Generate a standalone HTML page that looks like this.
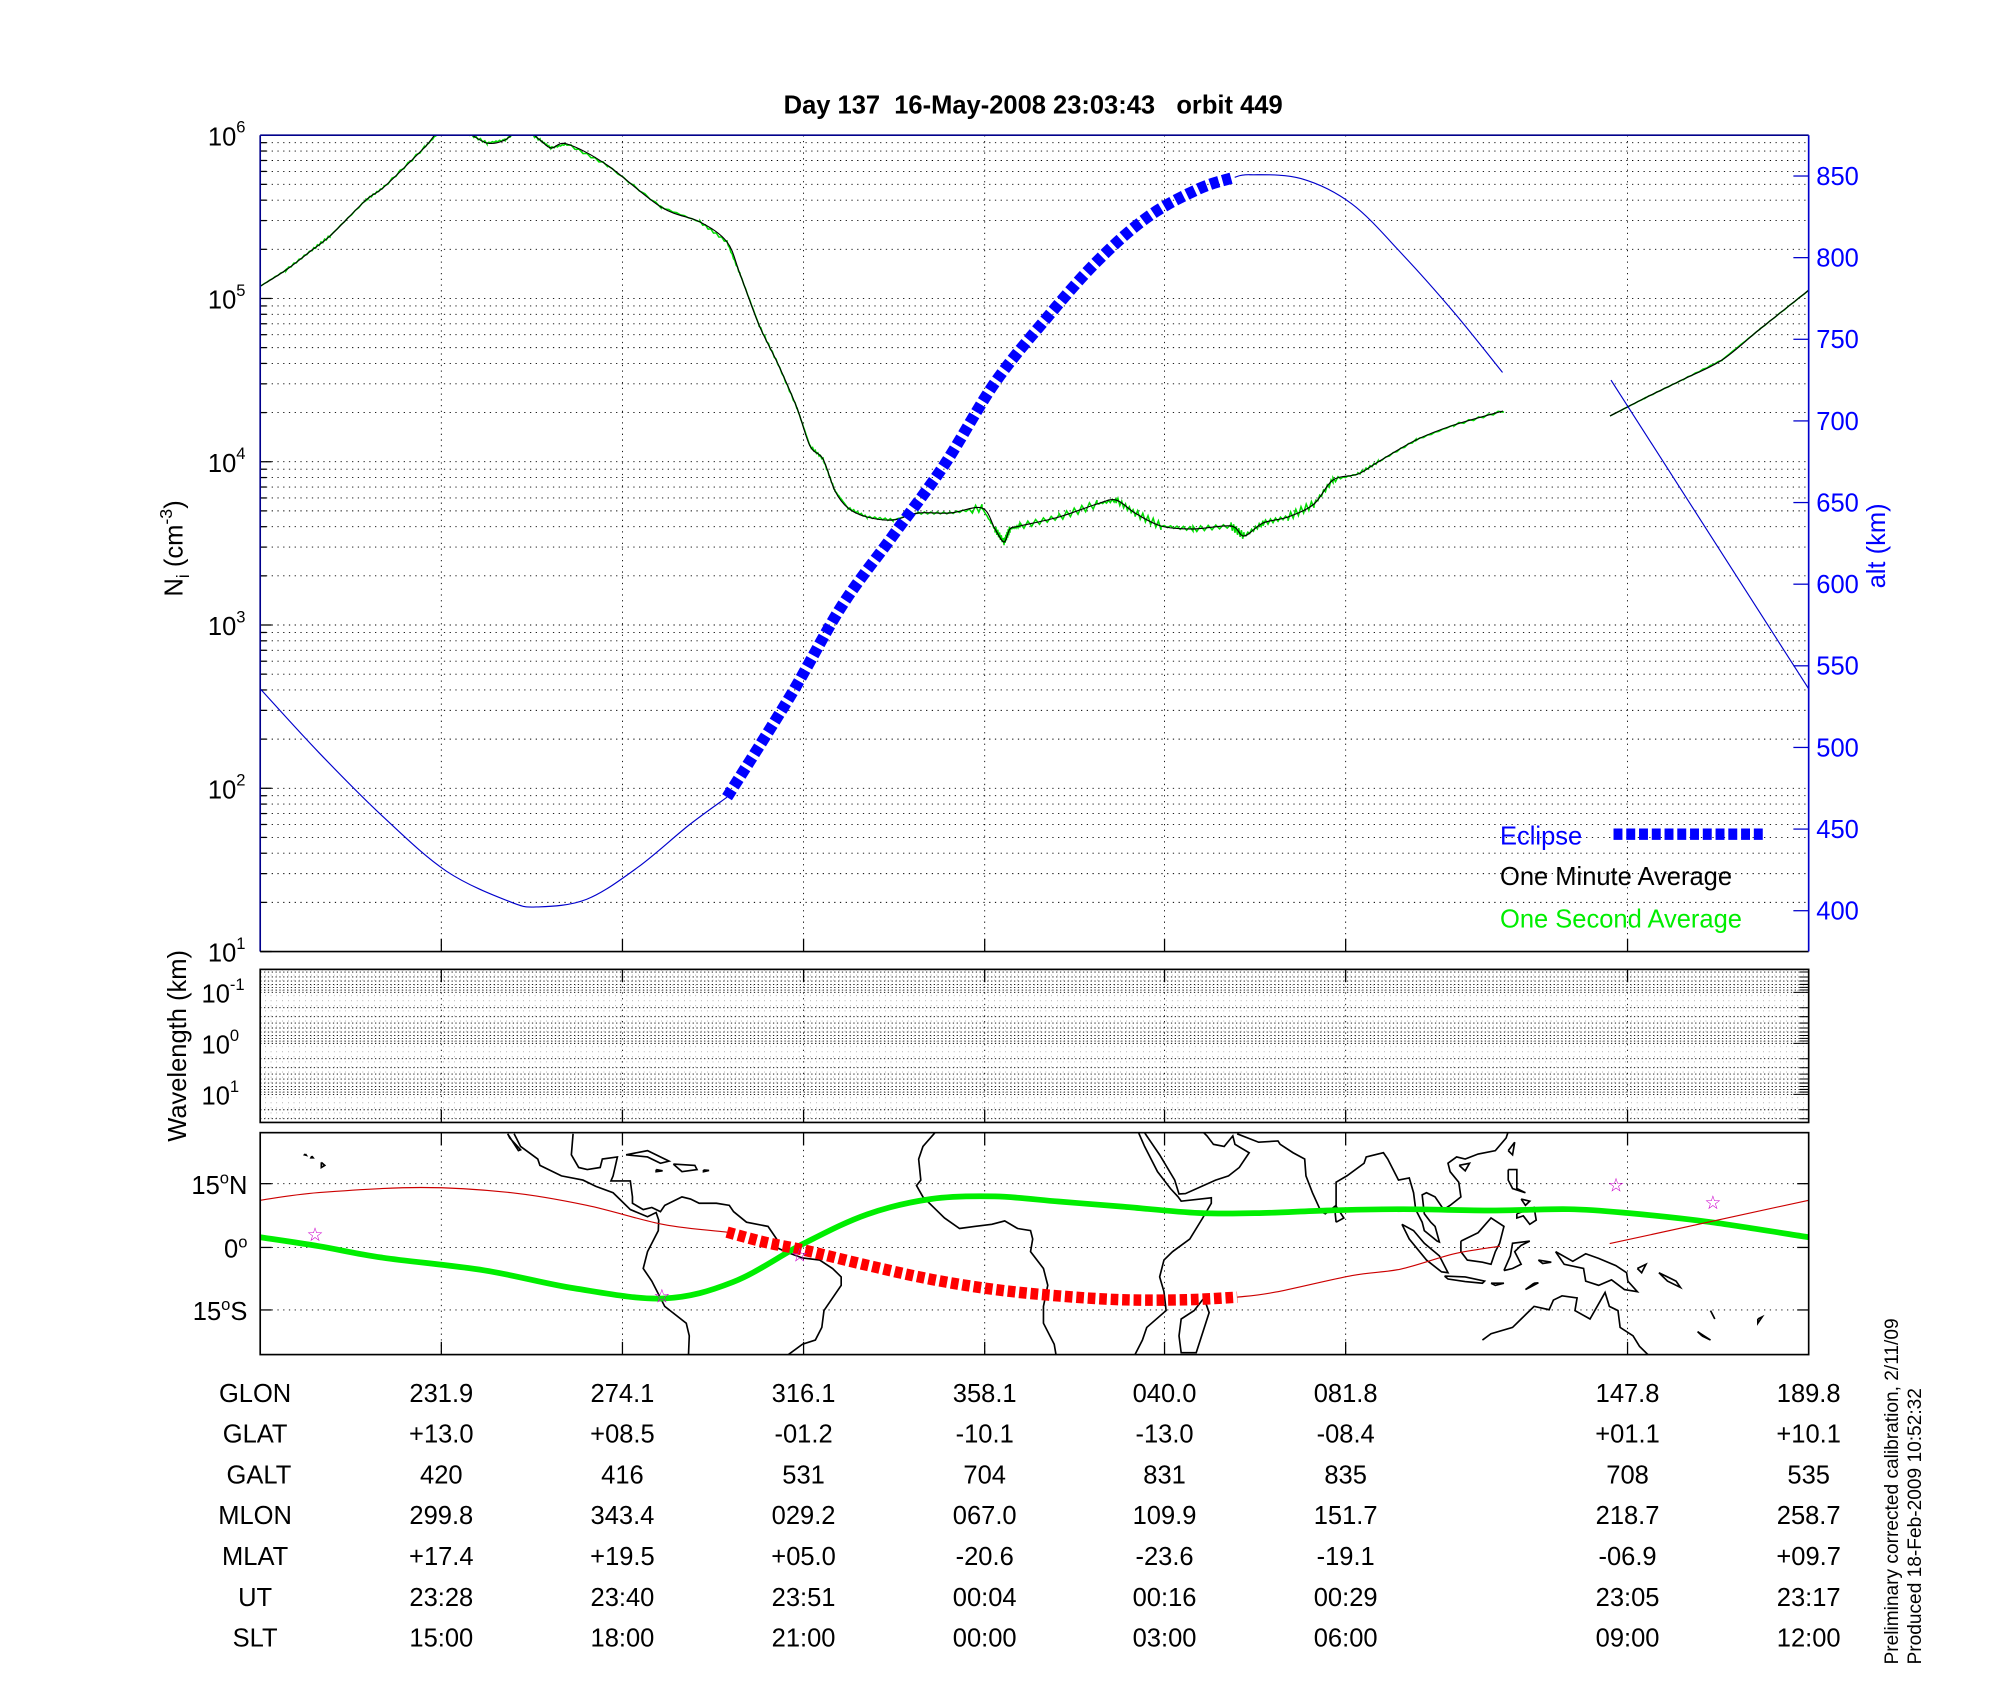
<!DOCTYPE html>
<html><head><meta charset="utf-8"><style>
html,body{margin:0;padding:0;background:#fff;}
svg{display:block;font-family:"Liberation Sans",Arial,sans-serif;}
</style></head><body>
<svg id="s" width="2000" height="1700" viewBox="0 0 1568 1332.8" preserveAspectRatio="none" xmlns="http://www.w3.org/2000/svg">
<rect width="1568" height="1333" fill="#fff"/>
<defs>
<clipPath id="cm"><rect x="204" y="106" width="1214" height="640"/></clipPath>
<clipPath id="cmap"><rect x="204" y="888" width="1214" height="174"/></clipPath>
<clipPath id="cw"><rect x="204" y="760" width="1214" height="120"/></clipPath>
</defs>
<g id="grid"></g>
<g id="data"></g>
<line x1="204" y1="106" x2="1418" y2="106" stroke="#00008b" stroke-width="1.3"/>
<line x1="204" y1="106" x2="204" y2="746" stroke="#00008b" stroke-width="1.3"/>
<line x1="204" y1="746" x2="1418" y2="746" stroke="#000" stroke-width="1.3"/>
<line x1="1418" y1="106" x2="1418" y2="746" stroke="#0000cc" stroke-width="1.3"/>
<rect x="204" y="760" width="1214" height="120" fill="none" stroke="#000" stroke-width="1.3"/>
<rect x="204" y="888" width="1214" height="174" fill="none" stroke="#000" stroke-width="1.3"/>
<text x="810" y="89" text-anchor="middle" font-weight="bold" font-size="20" xml:space="preserve">Day 137  16-May-2008 23:03:43   orbit 449</text>
<g id="txt" font-size="21"></g>
<text x="1176" y="662" fill="#0000ff" font-size="20">Eclipse</text>
<line x1="1265" y1="654" x2="1382" y2="654" stroke="#0000ff" stroke-width="9" stroke-dasharray="7 3"/>
<text x="1176" y="694" fill="#000" font-size="20">One Minute Average</text>
<text x="1176" y="727" fill="#00ee00" font-size="20">One Second Average</text>
<text transform="translate(143,430) rotate(-90)" text-anchor="middle" font-size="20">N<tspan font-size="14" dy="5">i</tspan><tspan dy="-5"> (cm</tspan><tspan font-size="14" dy="-8">-3</tspan><tspan dy="8">)</tspan></text>
<text transform="translate(1478,428) rotate(-90)" text-anchor="middle" font-size="20" fill="#0000ff">alt (km)</text>
<text transform="translate(146,820) rotate(-90)" text-anchor="middle" font-size="20">Wavelength (km)</text>
<text transform="translate(1488,1305) rotate(-90)" font-size="15">Preliminary corrected calibration, 2/11/09</text>
<text transform="translate(1506,1305) rotate(-90)" font-size="15">Produced 18-Feb-2009 10:52:32</text>
</svg>
<script>
var NS="http://www.w3.org/2000/svg";
function el(p,t,a,txt){var e=document.createElementNS(NS,t);for(var k in a)e.setAttribute(k,a[k]);if(txt!==undefined)e.textContent=txt;p.appendChild(e);return e;}
var g=document.getElementById('grid'),d=document.getElementById('data'),T=document.getElementById('txt');
var XT=[346,488,630,772,913,1055,1276];
for(var dec=0;dec<5;dec++){var b=746-128*dec;for(var k=1;k<=9;k++){var y=b-128*Math.log10(k);
 el(g,'line',{x1:204,x2:1418,y1:y,y2:y,stroke:'#000','stroke-width':0.7,'stroke-dasharray':'1 3.5'});
 el(g,'line',{x1:204,x2:k==1?213:209,y1:y,y2:y,stroke:'#000','stroke-width':1});}}
XT.forEach(function(x){el(g,'line',{x1:x,x2:x,y1:106,y2:746,stroke:'#000','stroke-width':0.7,'stroke-dasharray':'1 3.5'});
 el(g,'line',{x1:x,x2:x,y1:746,y2:736,stroke:'#000','stroke-width':1});
 el(g,'line',{x1:x,x2:x,y1:760,y2:880,stroke:'#000','stroke-width':0.7,'stroke-dasharray':'1 3.5'});
 el(g,'line',{x1:x,x2:x,y1:880,y2:870,stroke:'#000','stroke-width':1});el(g,'line',{x1:x,x2:x,y1:760,y2:770,stroke:'#000','stroke-width':1});
 el(g,'line',{x1:x,x2:x,y1:888,y2:1062,stroke:'#000','stroke-width':0.7,'stroke-dasharray':'1 3.5'});
 el(g,'line',{x1:x,x2:x,y1:1062,y2:1052,stroke:'#000','stroke-width':1});el(g,'line',{x1:x,x2:x,y1:888,y2:898,stroke:'#000','stroke-width':1});});
var wg=el(g,'g',{'clip-path':'url(#cw)'});
for(var dv=-2;dv<=1;dv++)for(var k=1;k<=9;k++){var y=818+40*(dv+Math.log10(k));
 el(wg,'line',{x1:204,x2:1418,y1:y,y2:y,stroke:'#000','stroke-width':0.7,'stroke-dasharray':'1 2'});
 el(wg,'line',{x1:1418,x2:k==1?1406:1411,y1:y,y2:y,stroke:'#000','stroke-width':0.8});}
for(var x=208;x<1418;x+=4.5)el(wg,'line',{x1:x,x2:x,y1:760,y2:880,stroke:'#000','stroke-width':0.35,'stroke-dasharray':'1 3',opacity:0.5});
[928,978,1027].forEach(function(y){el(g,'line',{x1:204,x2:1418,y1:y,y2:y,stroke:'#000','stroke-width':0.7,'stroke-dasharray':'1 3.5'});
 el(g,'line',{x1:204,x2:213,y1:y,y2:y,stroke:'#000'});el(g,'line',{x1:1418,x2:1409,y1:y,y2:y,stroke:'#000'});});
for(var a=400;a<=850;a+=50){var y=714-(a-400)*1.28;
 el(g,'line',{x1:1418,x2:1406,y1:y,y2:y,stroke:'#0000cc','stroke-width':1});
 el(T,'text',{x:1424,y:y+7,fill:'#0000ff','font-size':20},a);}
for(var e=1;e<=6;e++){var y=746-128*(e-1);var t=el(T,'text',{x:163,y:y+8,'font-size':20},'10');el(t,'tspan',{dy:-10,'font-size':13},e);}
[[-1,778],[0,818],[1,858]].forEach(function(p){var t=el(T,'text',{x:158,y:p[1]+8,'font-size':20},'10');el(t,'tspan',{dy:-10,'font-size':13},p[0]);});
var ml=[['15','N',928],['0','',978],['15','S',1027]];
ml.forEach(function(m){var t=el(T,'text',{x:194,y:m[2]+8,'font-size':20,'text-anchor':'end'},m[0]);el(t,'tspan',{dy:-8,'font-size':13},'o');el(t,'tspan',{dy:8},m[1]);});
var rows=[['GLON','231.9','274.1','316.1','358.1','040.0','081.8','147.8','189.8'],
['GLAT','+13.0','+08.5','-01.2','-10.1','-13.0','-08.4','+01.1','+10.1'],
['GALT','420','416','531','704','831','835','708','535'],
['MLON','299.8','343.4','029.2','067.0','109.9','151.7','218.7','258.7'],
['MLAT','+17.4','+19.5','+05.0','-20.6','-23.6','-19.1','-06.9','+09.7'],
['UT','23:28','23:40','23:51','00:04','00:16','00:29','23:05','23:17'],
['SLT','15:00','18:00','21:00','00:00','03:00','06:00','09:00','12:00']];
var cx=[200,346,488,630,772,913,1055,1276,1418];
rows.forEach(function(r,i){r.forEach(function(v,j){el(T,'text',{x:cx[j]+(j==0&&i==2?3:0),y:1099+32*i,'text-anchor':'middle','font-size':20},v);});});
function pl(p,pts,at){var s=pts.map(function(q){return q[0]+','+q[1];}).join(' ');at.points=s;at.fill='none';return el(p,'polyline',at);}
function sp(p,P,at){var s='M'+P[0][0]+','+P[0][1];for(var i=0;i<P.length-1;i++){var p0=P[i-1]||P[i],p1=P[i],p2=P[i+1],p3=P[i+2]||p2;
 s+=' C'+(p1[0]+(p2[0]-p0[0])/6)+','+(p1[1]+(p2[1]-p0[1])/6)+' '+(p2[0]-(p3[0]-p1[0])/6)+','+(p2[1]-(p3[1]-p1[1])/6)+' '+p2[0]+','+p2[1];}
 at.d=s;at.fill='none';return el(p,'path',at);}
var mg=el(d,'g',{'clip-path':'url(#cm)'});
var S=1/1.2755;
var dens=[[259,287],[286,270],[312,250],[330,236],[366,200],[384,187],[424,148],[441,130],[465,132],[487,143],[505,140],[522,128],[540,140],[551,148],[567,144],[607,165],[661,207],[700,222],[727,242],[740,274],[759,325],[778,364],[797,408],[810,446],[823,459],[835,491],[848,508],[867,517],[893,520],[918,513],[950,513],[982,508],[995,529],[1004,542],[1010,529],[1020,526],[1059,517],[1097,504],[1116,500],[1135,513],[1161,526],[1193,529],[1231,526],[1244,536],[1263,523],[1288,517],[1314,504],[1333,480],[1358,474],[1378,462],[1416,440],[1454,425],[1503,411]];
var dens2=[[1610,416],[1645,398],[1684,379],[1722,360],[1760,329],[1809,290]];
function sc(a){return a.map(function(q){return [q[0]*S,q[1]*S];});}
function jit(a,amp){var o=[];for(var i=0;i<a.length-1;i++){for(var t=0;t<1;t+=0.1){var x=a[i][0]+(a[i+1][0]-a[i][0])*t,y=a[i][1]+(a[i+1][1]-a[i][1])*t;var r=(x>760&&x<1050)?amp:amp*0.3;o.push([x,y+(Math.sin(i*7.3+t*31)*r)]);}}o.push(a[a.length-1]);return o;}
pl(mg,jit(sc(dens),3),{stroke:'#00dd00','stroke-width':1.2});pl(mg,jit(sc(dens2),1),{stroke:'#00dd00','stroke-width':1.2});
sp(mg,sc(dens),{stroke:'#000','stroke-width':0.9});sp(mg,sc(dens2),{stroke:'#000','stroke-width':0.9});
var alt1=[[204,540],[250,590],[300,640],[350,683],[400,707],[422,711],[460,705],[500,680],[540,647],[570,625]];
var ecl=[[570,625],[620,545],[660,475],[700,420],[740,365],[780,300],[820,250],[860,205],[900,170],[940,148],[968,139]];
var alt2=[[968,139],[980,137],[1020,140],[1060,160],[1100,200],[1140,245],[1178,292]];
var alt3=[[1263,298],[1418,540]];
sp(mg,alt1,{stroke:'#0000cc','stroke-width':0.9});sp(mg,alt2,{stroke:'#0000cc','stroke-width':0.9});pl(mg,alt3,{stroke:'#0000cc','stroke-width':0.9});
sp(mg,ecl,{stroke:'#0000ff','stroke-width':9,'stroke-dasharray':'7 3'});
var mp=el(d,'g',{'clip-path':'url(#cmap)'});
function LX(lon){return 204+(((lon-190)%360+360)%360)*3.374;}
function LY(lat){return 978-lat*3.3;}
var coasts=[
[[-111,27],[-109.5,24],[-105.5,21],[-105,19.5],[-100,17],[-95,16],[-92,14.5],[-88,13],[-86,11],[-84,9],[-80,7.3],[-78,8.3],[-77.4,6.5],[-77.5,4],[-79,1],[-80,-1],[-81,-5],[-79,-8],[-76,-14],[-71,-18],[-70.3,-21],[-70.5,-26]],
[[-97.3,27],[-97.7,22],[-96,19],[-94,18.5],[-91,19],[-90.5,21],[-87,21.5],[-88,17],[-88.5,15.8],[-84,15.8],[-83.5,12],[-83.5,10.5],[-81,9],[-79,9.5],[-77,8.5],[-76,10],[-72,12],[-70,11.5],[-68,10.5],[-64,10.5],[-61,10],[-60,8.5],[-57,6],[-52,5],[-50,2],[-50,0],[-48,-1],[-44,-2.5],[-40,-3],[-37,-5],[-35,-7],[-35,-9],[-37,-12],[-39,-15],[-39.5,-19],[-41,-22],[-44,-23],[-48,-26]],
[[-112.5,27],[-110,23],[-109.5,23.2],[-112,26],[-112.5,27]],
[[-85,22],[-80,23],[-75,20.5],[-77,20],[-80,21.5],[-85,22]],
[[-74,19.8],[-69,19.5],[-68.5,18.5],[-72,18],[-74,19.8]],[[-78,18.5],[-76.5,18.2],[-78,18],[-78,18.5]],[[-67,18.4],[-65.7,18.3],[-67,18],[-67,18.4]],
[[-155.8,20.2],[-155,19.5],[-155.8,19],[-155.8,20.2]],[[-158,21.7],[-157.7,21.3],[-158.2,21.3],[-158,21.7]],[[-159.5,22.2],[-159.3,21.9],[-159.7,22],[-159.5,22.2]],
[[-13,27.5],[-16,24],[-17,21],[-16.5,16],[-17.5,14.7],[-16,12],[-15,11],[-13,9],[-11,7],[-7.5,4.5],[-4,5],[0,5.5],[3,6.3],[6,4.5],[9,4],[9.5,2],[9,-1],[12,-5],[13,-9],[12,-14],[12,-18],[14.5,-23],[15,-26]],
[[34,27.5],[35.5,24],[37,21],[38.5,18],[41.5,14],[43.3,12],[44,11],[51,11.8],[51,10.5],[49,7],[46,2],[42,-1],[40,-3],[39,-7],[40,-10.5],[40.5,-15],[36,-19],[35,-22],[33,-26]],
[[35,28],[39,22],[42.5,16],[43.5,12.7],[45,12.8],[52,16],[55,17],[57.5,19],[59.8,22.5],[56.5,24.5],[56,26.5],[54,24],[51.5,24.5],[50,26.5],[49,27.5]],
[[49.3,-12],[50.5,-15.5],[47.5,-25],[44,-25],[43.5,-21],[44,-17],[47,-15],[49.3,-12]],
[[57,27],[62,25],[66.5,25.3],[67,24.5],[70,22.5],[72.7,21],[73,17],[74.5,13],[76.5,8.5],[77.5,8],[80,10],[80,15.5],[82.5,17],[86.5,20],[87,21.5],[89,22],[91,22.5],[92,21],[94,17],[94.5,16],[97,16.5],[98,13],[98.5,9],[100,6],[100.5,4],[103.5,1.5],[104,1.3],[103,5],[102,6],[100.5,8],[100,12.5],[101,13],[103,12],[105,9],[106.5,10],[109,12],[108.5,15.5],[106.5,18],[106,20],[108,21.5],[110,21],[113,22.2],[117,23],[119.5,26],[120,27.5]],
[[80,6],[81.8,7],[80,9.8],[79.8,8],[80,6]],
[[95.3,5.5],[98,4],[100.5,1],[104,-2],[106,-6],[104.5,-5.8],[101,-3],[97,2],[95.3,5.5]],
[[105.2,-6.8],[110,-7],[114.5,-8],[114,-8.5],[110,-8.1],[106,-7.5],[105.2,-6.8]],
[[109,1.5],[110,2],[113,3.5],[116,7],[119,5],[118,1],[117,-1],[116,-4],[114,-3.5],[110.5,-3],[109,-1],[109,1.5]],
[[119,-5.5],[120.5,-2],[121,1],[125,1.5],[123,0.5],[121.5,-1],[123,-4],[121,-5],[119,-5.5]],
[[120,18.5],[122,18.5],[122,14],[124,13],[121,14],[120,16],[120,18.5]],[[122,8],[126,9.5],[126.5,6.5],[125,5.5],[123.5,7.5],[122,7],[122,8]],
[[123,11.5],[125,11],[124,10],[123,11.5]],
[[120,23],[121.5,25],[121,22],[120,23]],[[108.6,19.5],[111,20],[110,18.2],[108.6,19.5]],
[[131,-1],[135,-3.3],[138,-1.5],[141,-2.6],[145,-4.3],[147.5,-6],[147.8,-8],[150,-10.5],[147,-10],[144,-7.7],[141,-9],[138,-8],[137.5,-5],[133,-4],[132,-2.5],[131,-1]],
[[127,-3],[130,-3.5],[128,-3.8],[127,-3]],[[126,-8.5],[127,-8.4],[125,-9.5],[124,-10],[126,-8.5]],[[116,-8.5],[119,-8.5],[117,-9],[116,-8.5]],
[[150,-5],[152,-4],[151,-6],[150,-5]],[[155,-6],[157,-7],[159,-8],[160,-9.5],[157,-8],[155,-6]],
[[167,-15],[167.5,-16],[168,-17],[167,-15]],[[178,-17],[179,-16.5],[178,-18],[178,-17]],[[165,-21],[167,-22],[164,-20],[165,-21]],
[[114,-22],[116,-20.5],[121,-19],[123,-17],[126,-14],[129.5,-14.8],[130.5,-12.5],[132.5,-11.5],[136,-12],[135.5,-15],[139,-17],[141.5,-12.5],[142.5,-10.7],[143.5,-14],[145.5,-15],[146,-19],[149,-21],[150.5,-23.5],[153,-26]]];
coasts.forEach(function(c){pl(mp,c.map(function(q){return [LX(q[0]),LY(q[1])];}),{stroke:'#000','stroke-width':1.3});});
sp(mp,[[204,970],[250,977],[300,986],[380,996],[450,1010],[520,1018],[575,1005],[630,975],[680,952],[730,940],[780,938],[830,942],[880,946],[940,951],[990,951],[1040,949],[1100,948],[1170,949],[1230,948],[1276,951],[1340,958],[1418,970]],{stroke:'#00ee00','stroke-width':4.5});
sp(mp,[[204,941],[250,935],[330,931],[400,935],[460,945],[520,960],[570,966]],{stroke:'#cc0000','stroke-width':0.9});
sp(mp,[[970,1017],[1000,1013],[1060,1000],[1098,995],[1140,983],[1176,977]],{stroke:'#cc0000','stroke-width':0.9});
pl(mp,[[1262,975],[1418,941]],{stroke:'#cc0000','stroke-width':0.9});
sp(mp,[[570,966],[600,974],[630,980],[680,992],[730,1003],[780,1011],[830,1016],[880,1019],[930,1019],[970,1017]],{stroke:'#ff0000','stroke-width':9,'stroke-dasharray':'6 3'});
[[247,968],[519,1016],[627,984],[1267,929],[1343,943]].forEach(function(p){el(mp,'text',{x:p[0],y:p[1]+5,'text-anchor':'middle',fill:'#cc00cc','font-size':15},'\u2606');});
</script>
</body></html>
